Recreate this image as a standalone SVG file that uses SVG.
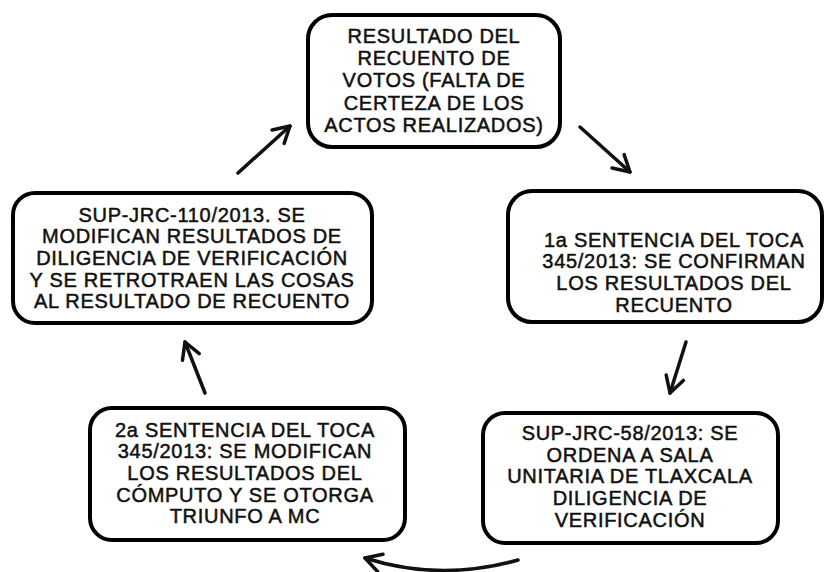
<svg xmlns="http://www.w3.org/2000/svg" width="826" height="572" viewBox="0 0 826 572">
<style>
.box{fill:#fff;stroke:#000;stroke-width:4}
.t{font-family:"Liberation Sans",Arial,sans-serif;font-size:20px;fill:#111;stroke:#111;stroke-width:0.5;text-anchor:middle;letter-spacing:0.7px}
.c{fill:none;stroke:#111;stroke-width:3.5;stroke-linecap:round}
</style>
<defs>
<marker id="ah" viewBox="-18 -12 20 24" refX="0" refY="0" markerWidth="20" markerHeight="24" markerUnits="userSpaceOnUse" orient="auto">
<path d="M-16,-9 L0,0 L-16,9" fill="none" stroke="#111" stroke-width="3.5" stroke-linecap="round" stroke-linejoin="round"/>
</marker>
</defs>
<rect width="826" height="572" fill="#fff"/>
<g id="connectors">
<path class="c" d="M238,173 L290,126" marker-end="url(#ah)"/>
<path class="c" d="M580,127 L630,172" marker-end="url(#ah)"/>
<path class="c" d="M686,342 L670,393" marker-end="url(#ah)"/>
<path class="c" d="M518,560 Q440,582 365,558" marker-end="url(#ah)"/>
<path class="c" d="M205,393 L185,342" marker-end="url(#ah)"/>
</g>
<g id="n1">
<rect class="box" x="308" y="15" width="252" height="132" rx="24"/>
<text class="t" x="434" y="43">RESULTADO DEL</text>
<text class="t" x="434" y="65">RECUENTO DE</text>
<text class="t" x="434" y="87">VOTOS (FALTA DE</text>
<text class="t" x="434" y="110">CERTEZA DE LOS</text>
<text class="t" x="434" y="132">ACTOS REALIZADOS)</text>
</g>
<g id="n2">
<rect class="box" x="508" y="191" width="314" height="131" rx="24"/>
<text class="t" x="674" y="247">1a SENTENCIA DEL TOCA</text>
<text class="t" x="674" y="268">345/2013: SE CONFIRMAN</text>
<text class="t" x="674" y="290">LOS RESULTADOS DEL</text>
<text class="t" x="674" y="312">RECUENTO</text>
</g>
<g id="n3">
<rect class="box" x="483" y="413" width="295" height="130" rx="22"/>
<text class="t" x="630" y="440">SUP-JRC-58/2013: SE</text>
<text class="t" x="630" y="462">ORDENA A SALA</text>
<text class="t" x="630" y="483">UNITARIA DE TLAXCALA</text>
<text class="t" x="630" y="505">DILIGENCIA DE</text>
<text class="t" x="630" y="527">VERIFICACIÓN</text>
</g>
<g id="n4">
<rect class="box" x="90" y="408" width="315" height="132" rx="22"/>
<text class="t" x="245" y="437">2a SENTENCIA DEL TOCA</text>
<text class="t" x="245" y="458">345/2013: SE MODIFICAN</text>
<text class="t" x="245" y="480">LOS RESULTADOS DEL</text>
<text class="t" x="245" y="502">CÓMPUTO Y SE OTORGA</text>
<text class="t" x="245" y="523">TRIUNFO A MC</text>
</g>
<g id="n5">
<rect class="box" x="13" y="193" width="359" height="130" rx="22"/>
<text class="t" x="192" y="222">SUP-JRC-110/2013. SE</text>
<text class="t" x="192" y="243">MODIFICAN RESULTADOS DE</text>
<text class="t" x="192" y="265">DILIGENCIA DE VERIFICACIÓN</text>
<text class="t" x="192" y="287">Y SE RETROTRAEN LAS COSAS</text>
<text class="t" x="192" y="308">AL RESULTADO DE RECUENTO</text>
</g>
</svg>
